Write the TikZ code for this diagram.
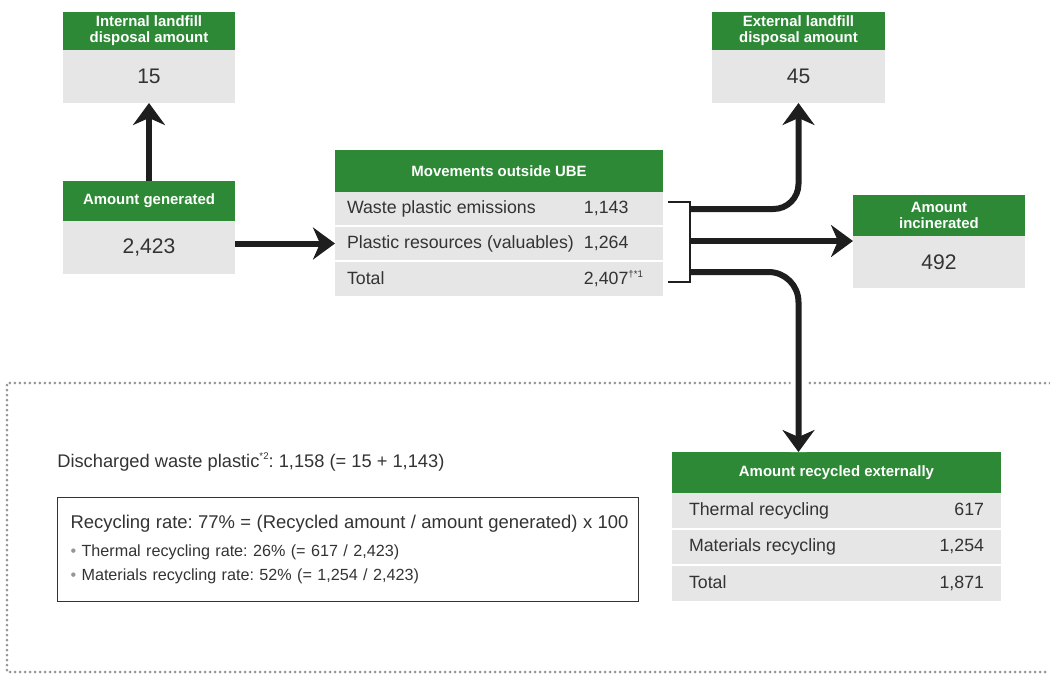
\documentclass[tikz,border=0pt]{standalone}
\usepackage{fontspec}
\setmainfont{Liberation Sans}
\usepackage{xcolor}
\usetikzlibrary{positioning,arrows.meta}
\frenchspacing
\definecolor{ubegreen}{RGB}{46,137,54}
\definecolor{ubegray}{RGB}{230,230,230}
\definecolor{ubetext}{RGB}{51,51,51}
\definecolor{ubedots}{RGB}{150,150,150}
\definecolor{ubearrow}{RGB}{30,30,30}
\newcommand{\mrow}[2]{\makebox[6.08cm][l]{\makebox[4.74cm][l]{#1}#2}}
\newcommand{\rrow}[2]{\makebox[5.9cm]{#1\hfill #2}}
\newcommand{\note}[1]{\raisebox{0.75ex}{\fontsize{5.5}{6}\selectfont #1}}

\begin{document}
\begin{tikzpicture}[node distance=0pt, auto,
    head/.style={fill=ubegreen, text=white, font=\fontsize{8.5}{9.2}\selectfont\bfseries, align=center, inner sep=0pt, outer sep=0pt},
    amount/.style={fill=ubegray, text=ubetext, font=\fontsize{12}{14}\selectfont, minimum width=3.44cm, minimum height=1.06cm, inner sep=0pt, outer sep=0pt},
    row/.style={fill=ubegray, text=ubetext, font=\fontsize{10.1}{12}\selectfont, minimum height=0.66cm, inner ysep=0pt, outer sep=0pt},
    flow/.style={draw=ubearrow, line width=0.12cm, -{Stealth[length=0.44cm, width=0.64cm, inset=0.14cm]}},
    dotline/.style={draw=ubedots, line width=0.06cm, line cap=round, dash pattern=on 0pt off 0.1cm}]

  \useasboundingbox (0,0) rectangle (21,-13.5);

  \draw [dotline] (21,-7.66) -- (0.14,-7.66) -- (0.14,-13.44) -- (21,-13.44);

  \node (InternalHead) [head, minimum width=3.44cm, minimum height=0.76cm] at (2.98,-0.62) {Internal landfill\\disposal amount};
  \node (Internal) [amount, below=of InternalHead] {15};
  \node (GeneratedHead) [head, minimum width=3.44cm, minimum height=0.8cm] at (2.98,-4.02) {Amount generated};
  \node (Generated) [amount, below=of GeneratedHead] {2,423};

  \node (MoveHead) [head, minimum width=6.56cm, minimum height=0.84cm] at (9.98,-3.42) {Movements outside UBE};
  \node (MoveWaste) [row, inner xsep=0.24cm, below=of MoveHead] {\mrow{Waste plastic emissions}{1,143}};
  \node (MovePlastic) [row, inner xsep=0.24cm, below=0.04cm of MoveWaste] {\mrow{Plastic resources (valuables)}{1,264}};
  \node (MoveTotal) [row, inner xsep=0.24cm, minimum height=0.68cm, below=0.04cm of MovePlastic] {\mrow{Total}{2,407\note{†*1}}};

  \node (ExternalHead) [head, minimum width=3.46cm, minimum height=0.76cm] at (15.97,-0.62) {External landfill\\disposal amount};
  \node (External) [amount, minimum width=3.46cm, below=of ExternalHead] {45};
  \node (IncinHead) [head, minimum width=3.44cm, minimum height=0.82cm] at (18.78,-4.31) {Amount\\incinerated};
  \node (Incin) [amount, minimum height=1.04cm, below=of IncinHead] {492};

  \node (RecycledHead) [head, minimum width=6.58cm, minimum height=0.82cm] at (16.73,-9.45) {Amount recycled externally};
  \node (RecThermal) [row, inner xsep=0.34cm, minimum height=0.7cm, below=of RecycledHead] {\rrow{Thermal recycling}{617}};
  \node (RecMaterial) [row, inner xsep=0.34cm, minimum height=0.68cm, below=0.04cm of RecThermal] {\rrow{Materials recycling}{1,254}};
  \node (RecTotal) [row, inner xsep=0.34cm, minimum height=0.7cm, below=0.04cm of RecMaterial] {\rrow{Total}{1,871}};

  \node (Discharged) [anchor=west, text=ubetext, font=\fontsize{10.4}{12}\selectfont, inner sep=0pt] at (1.14,-9.24) {Discharged waste plastic\note{*2}: 1,158 (= 15 + 1,143)};
  \node (RateBox) [draw=ubetext, line width=0.02cm, anchor=north west, minimum height=2.08cm, text width=11.4cm, inner xsep=0.11cm, align=left, text=ubetext, font=\fontsize{9.2}{13.6}\selectfont] at (1.14,-9.94)
    {\hspace*{0.15cm}{\fontsize{10.5}{12}\selectfont Recycling rate: 77\% = (Recycled amount / amount generated) x 100}\\[0.08cm]
     \hspace*{0.15cm}\textcolor{ubedots}{\textbullet} Thermal recycling rate: 26\% (= 617 / 2,423)\\
     \hspace*{0.15cm}\textcolor{ubedots}{\textbullet} Materials recycling rate: 52\% (= 1,254 / 2,423)};

  \coordinate (BrTop) at (13.36,-4.04);
  \coordinate (BrBot) at (13.36,-5.64);
  \coordinate (BrA) at (13.8,-4.18);
  \coordinate (BrB) at (13.8,-4.82);
  \coordinate (BrC) at (13.8,-5.44);

  \draw [flow] (GeneratedHead.north) -- (Internal.south);
  \draw [flow] (Generated.east |- MovePlastic) -- (MovePlastic.west);
  \draw [flow, rounded corners=0.5cm] (BrA) -| (External.south);
  \draw [flow] (BrB) -- (BrB -| Incin.west);
  \draw [flow, rounded corners=0.6cm, preaction={draw=white, line width=0.32cm, -}] (BrC) -| (External.south |- RecycledHead.north);
  \draw [draw=ubearrow, line width=0.04cm] (BrTop) -| (BrC |- BrBot) -- (BrBot);
\end{tikzpicture}
\end{document}
